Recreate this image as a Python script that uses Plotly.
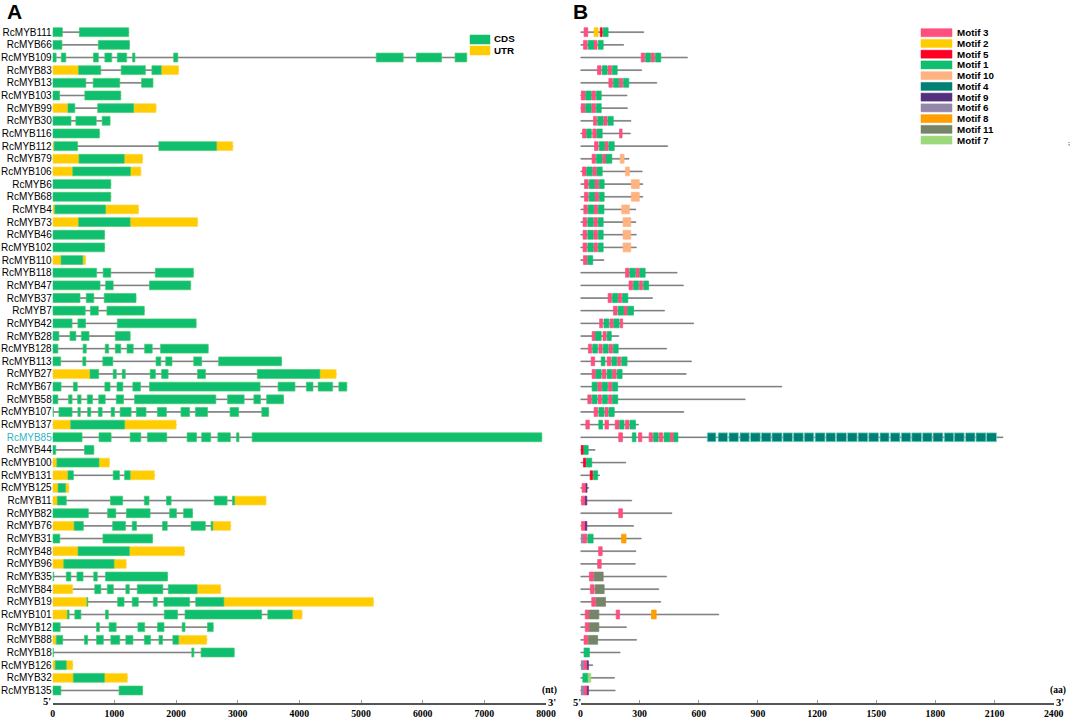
import plotly.graph_objects as go

W, H = 1072, 719

GENES = ["RcMYB111", "RcMYB66", "RcMYB109", "RcMYB83", "RcMYB13", "RcMYB103", "RcMYB99", "RcMYB30", "RcMYB116",
         "RcMYB112", "RcMYB79", "RcMYB106", "RcMYB6", "RcMYB68", "RcMYB4", "RcMYB73", "RcMYB46", "RcMYB102",
         "RcMYB110", "RcMYB118", "RcMYB47", "RcMYB37", "RcMYB7", "RcMYB42", "RcMYB28", "RcMYB128", "RcMYB113",
         "RcMYB27", "RcMYB67", "RcMYB58", "RcMYB107", "RcMYB137", "RcMYB85", "RcMYB44", "RcMYB100", "RcMYB131",
         "RcMYB125", "RcMYB11", "RcMYB82", "RcMYB76", "RcMYB31", "RcMYB48", "RcMYB96", "RcMYB35", "RcMYB84",
         "RcMYB19", "RcMYB101", "RcMYB12", "RcMYB88", "RcMYB18", "RcMYB126", "RcMYB32", "RcMYB135"]

# panel A, exon start/end in nt
CDS = {
    "RcMYB111": [(0, 157), (432, 1233)],
    "RcMYB66": [(0, 150), (740, 1245)],
    "RcMYB109": [(0, 56), (140, 213), (661, 740), (846, 958), (1048, 1200), (1295, 1334), (1962, 2029),
                 (5247, 5684), (5897, 6306), (6525, 6715)],
    "RcMYB83": [(420, 779), (1110, 1502), (1609, 1760)],
    "RcMYB13": [(0, 538), (656, 1087), (1441, 1626)],
    "RcMYB103": [(0, 112), (521, 1104)],
    "RcMYB99": [(247, 359), (729, 1312)],
    "RcMYB30": [(0, 297), (376, 706), (802, 930)],
    "RcMYB116": [(0, 757)],
    "RcMYB112": [(22, 404), (1721, 2657)],
    "RcMYB79": [(426, 1160)],
    "RcMYB106": [(325, 1261)],
    "RcMYB6": [(0, 942)],
    "RcMYB68": [(0, 942)],
    "RcMYB4": [(34, 858)],
    "RcMYB73": [(420, 1256)],
    "RcMYB46": [(0, 841)],
    "RcMYB102": [(0, 841)],
    "RcMYB110": [(135, 488)],
    "RcMYB118": [(0, 712), (818, 942), (1665, 2281)],
    "RcMYB47": [(0, 768), (858, 981), (1570, 2237)],
    "RcMYB37": [(0, 443), (544, 667), (835, 1351)],
    "RcMYB7": [(0, 527), (611, 740), (880, 1485)],
    "RcMYB42": [(0, 314), (409, 533), (1048, 2326)],
    "RcMYB28": [(0, 101), (280, 376), (465, 589), (1015, 1256)],
    "RcMYB128": [(0, 84), (493, 544), (852, 908), (1015, 1104), (1205, 1306), (1491, 1614), (1749, 2522)],
    "RcMYB113": [(0, 129), (488, 538), (813, 975), (1676, 1754), (1833, 1934), (2287, 2416), (2691, 3711)],
    "RcMYB27": [(605, 746), (981, 1031), (1127, 1177), (1581, 1665), (1766, 1872), (2349, 2478), (3318, 4333)],
    "RcMYB67": [(0, 135), (336, 398), (846, 930), (1043, 1138), (1300, 1424), (1570, 3363), (3655, 3929),
                (4114, 4221), (4305, 4540), (4641, 4770)],
    "RcMYB58": [(0, 84), (258, 314), (404, 460), (561, 645), (746, 852), (1031, 1149), (1328, 2646),
                (2836, 3105), (3262, 3369), (3470, 3744)],
    "RcMYB107": [(0, 12), (101, 314), (409, 448), (566, 617), (740, 802), (947, 1003), (1093, 1272),
                 (1356, 1513), (1698, 1844), (2080, 2220), (2315, 2511), (2876, 3016), (3391, 3503)],
    "RcMYB137": [(291, 1166)],
    "RcMYB85": [(0, 476), (751, 947), (1256, 1429), (1536, 1850), (2180, 2332), (2416, 2562), (2679, 2881),
                (2982, 3021), (3234, 7932)],
    "RcMYB44": [(0, 50), (516, 667)],
    "RcMYB100": [(67, 751)],
    "RcMYB131": [(247, 336), (981, 1082), (1166, 1256)],
    "RcMYB125": [(87, 208)],
    "RcMYB11": [(75, 220), (937, 1134), (1486, 1562), (1845, 1920), (2620, 2828), (2915, 2950)],
    "RcMYB82": [(0, 578), (891, 1024), (1197, 1579), (1897, 2007), (2123, 2267)],
    "RcMYB76": [(347, 497), (972, 1180), (1290, 1359), (1781, 1857), (2244, 2475), (2568, 2597)],
    "RcMYB31": [(0, 116), (815, 1619)],
    "RcMYB48": [(411, 1244)],
    "RcMYB96": [(179, 995)],
    "RcMYB35": [(0, 17), (220, 295), (393, 492), (665, 723), (856, 1862)],
    "RcMYB84": [(682, 781), (885, 983), (1186, 1243), (1371, 1787), (1874, 2342)],
    "RcMYB19": [(555, 570), (1053, 1157), (1290, 1388), (1631, 1695), (1805, 2221), (2319, 2776)],
    "RcMYB101": [(237, 266), (359, 457), (856, 902), (1810, 2024), (2146, 3389), (3488, 3887)],
    "RcMYB12": [(0, 121), (711, 758), (914, 1029), (1382, 1492), (1700, 1805), (2099, 2146), (2510, 2603)],
    "RcMYB88": [(58, 162), (515, 567), (711, 821), (943, 1087), (1186, 1301), (1486, 1585), (1724, 1781),
                (1949, 2042)],
    "RcMYB18": [(0, 12), (2256, 2290), (2406, 2944)],
    "RcMYB126": [(40, 220)],
    "RcMYB32": [(335, 839)],
    "RcMYB135": [(0, 133), (1076, 1457)],
}

UTR = {
    "RcMYB83": [(0, 420), (1760, 2040)],
    "RcMYB99": [(0, 247), (1312, 1676)],
    "RcMYB112": [(0, 22), (2657, 2920)],
    "RcMYB79": [(0, 426), (1160, 1457)],
    "RcMYB106": [(0, 325), (1261, 1429)],
    "RcMYB4": [(0, 34), (858, 1390)],
    "RcMYB73": [(0, 420), (1256, 2349)],
    "RcMYB110": [(0, 135), (488, 533)],
    "RcMYB27": [(0, 605), (4333, 4596)],
    "RcMYB137": [(0, 291), (1166, 2001)],
    "RcMYB100": [(0, 67), (751, 919)],
    "RcMYB131": [(0, 247), (1256, 1648)],
    "RcMYB125": [(0, 87), (208, 260)],
    "RcMYB11": [(0, 75), (2950, 3459)],
    "RcMYB76": [(0, 347), (2597, 2886)],
    "RcMYB48": [(0, 411), (1244, 2134)],
    "RcMYB96": [(0, 179), (995, 1191)],
    "RcMYB84": [(0, 324), (2342, 2724)],
    "RcMYB19": [(0, 555), (2776, 5200)],
    "RcMYB101": [(0, 237), (3887, 4043)],
    "RcMYB88": [(0, 58), (2042, 2499)],
    "RcMYB126": [(0, 40), (220, 324)],
    "RcMYB32": [(0, 335), (839, 1209)],
}

# panel B, protein length in aa, same order as GENES
PROTEIN_LEN = [321, 219, 542, 310, 387, 236, 238, 256, 253, 442, 246, 313, 316, 316, 281, 281, 283, 283, 119,
               490, 522, 365, 426, 574, 194, 437, 563, 536, 1021, 835, 524, 294, 2143, 74, 230, 97, 42, 260,
               464, 269, 308, 281, 278, 436, 397, 407, 701, 233, 284, 201, 62, 172, 176]

MOTIF_NAMES = ["Motif 3", "Motif 2", "Motif 5", "Motif 1", "Motif 10", "Motif 4", "Motif 9", "Motif 6",
               "Motif 8", "Motif 11", "Motif 7"]
MOTIF_COLORS = ["#ff4f7f", "#ffcc00", "#ff0022", "#10be70", "#ffb380", "#008075", "#55307f", "#9488aa",
                "#ff9f00", "#76856a", "#9bd97b"]

# gene -> (motif number, start aa, end aa)
MOTIFS = {
    "RcMYB111": [(3, 18, 37), (2, 69, 89), (5, 100, 110), (1, 115, 140)],
    "RcMYB66": [(3, 15, 34), (1, 39, 66), (3, 66, 84), (1, 90, 115)],
    "RcMYB109": [(3, 308, 325), (1, 330, 355), (3, 358, 375), (1, 380, 407)],
    "RcMYB83": [(3, 86, 104), (1, 110, 135), (3, 139, 157), (1, 161, 186)],
    "RcMYB13": [(3, 144, 162), (1, 167, 194), (3, 196, 214), (1, 218, 245)],
    "RcMYB103": [(3, 3, 24), (1, 27, 54), (3, 57, 76), (1, 80, 105)],
    "RcMYB99": [(3, 3, 24), (1, 27, 54), (3, 57, 76), (1, 80, 105)],
    "RcMYB30": [(3, 66, 82), (1, 87, 114), (3, 117, 135), (1, 139, 166)],
    "RcMYB116": [(3, 10, 29), (1, 32, 55), (3, 62, 81), (1, 84, 110), (3, 198, 211)],
    "RcMYB112": [(3, 71, 89), (1, 95, 122), (3, 124, 140), (1, 144, 171)],
    "RcMYB79": [(3, 59, 76), (1, 81, 109), (3, 112, 130), (1, 130, 159), (10, 201, 221)],
    "RcMYB106": [(3, 10, 29), (1, 32, 59), (3, 62, 81), (1, 84, 110), (10, 228, 248)],
    "RcMYB6": [(3, 20, 39), (1, 44, 71), (3, 72, 92), (1, 95, 120), (10, 258, 298)],
    "RcMYB68": [(3, 20, 39), (1, 44, 71), (3, 72, 92), (1, 95, 120), (10, 258, 298)],
    "RcMYB4": [(3, 17, 35), (1, 39, 66), (3, 67, 87), (1, 90, 119), (10, 209, 248)],
    "RcMYB73": [(3, 13, 32), (1, 37, 64), (3, 67, 86), (1, 90, 115), (10, 216, 255)],
    "RcMYB46": [(3, 13, 32), (1, 37, 64), (3, 67, 86), (1, 90, 115), (10, 216, 255)],
    "RcMYB102": [(3, 13, 32), (1, 37, 64), (3, 67, 86), (1, 90, 115), (10, 216, 255)],
    "RcMYB110": [(3, 15, 34), (1, 37, 62)],
    "RcMYB118": [(3, 228, 246), (1, 250, 278), (3, 281, 299), (1, 301, 328)],
    "RcMYB47": [(3, 246, 265), (1, 269, 294), (3, 298, 315), (1, 320, 345)],
    "RcMYB37": [(3, 140, 157), (1, 162, 189), (3, 191, 209), (1, 213, 240)],
    "RcMYB7": [(3, 167, 186), (1, 191, 218), (3, 219, 238), (1, 240, 269)],
    "RcMYB42": [(3, 97, 112), (1, 119, 144), (3, 149, 166), (1, 169, 196), (3, 201, 214)],
    "RcMYB28": [(3, 59, 77), (1, 77, 105), (3, 114, 130), (1, 135, 156)],
    "RcMYB128": [(3, 40, 57), (1, 62, 86), (3, 93, 110), (1, 115, 140), (3, 144, 162), (1, 166, 191)],
    "RcMYB113": [(3, 54, 72), (1, 105, 124), (3, 135, 154), (1, 159, 184), (3, 188, 204), (1, 209, 236)],
    "RcMYB27": [(3, 59, 77), (1, 79, 105), (3, 110, 129), (1, 135, 159), (3, 162, 181), (1, 186, 211)],
    "RcMYB67": [(1, 59, 84), (3, 87, 107), (1, 110, 137), (3, 141, 159), (1, 162, 188)],
    "RcMYB58": [(3, 37, 55), (1, 59, 84), (3, 89, 107), (1, 112, 137), (3, 142, 159), (1, 162, 189)],
    "RcMYB107": [(3, 69, 87), (1, 93, 119), (3, 124, 140), (1, 144, 171)],
    "RcMYB137": [(3, 27, 45), (1, 93, 112), (3, 124, 142), (3, 176, 196), (1, 199, 221), (3, 228, 246),
                 (1, 251, 279)],
    "RcMYB85": [(3, 194, 213), (1, 263, 281), (3, 294, 311), (3, 348, 365), (1, 370, 394), (3, 399, 417),
                (1, 424, 452), (3, 453, 472), (1, 474, 494),
                (4, 643, 687), (4, 698, 746), (4, 753, 801), (4, 809, 856), (4, 862, 912), (4, 917, 966),
                (4, 971, 1022), (4, 1027, 1075), (4, 1080, 1130), (4, 1135, 1183), (4, 1190, 1240),
                (4, 1245, 1293), (4, 1298, 1349), (4, 1354, 1403), (4, 1408, 1457), (4, 1462, 1512),
                (4, 1519, 1565), (4, 1572, 1620), (4, 1627, 1675), (4, 1680, 1730), (4, 1735, 1783),
                (4, 1788, 1838), (4, 1845, 1893), (4, 1896, 1946), (4, 1953, 2001), (4, 2006, 2056),
                (4, 2059, 2110)],
    "RcMYB44": [(5, 3, 15), (1, 17, 39)],
    "RcMYB100": [(5, 15, 27), (1, 30, 57)],
    "RcMYB131": [(5, 49, 61), (1, 66, 87)],
    "RcMYB125": [(3, 8, 29), (9, 29, 33)],
    "RcMYB11": [(3, 5, 25), (9, 25, 32)],
    "RcMYB82": [(3, 194, 213)],
    "RcMYB76": [(3, 5, 25), (9, 25, 32)],
    "RcMYB31": [(6, 3, 11), (3, 11, 32), (1, 37, 64), (8, 208, 231)],
    "RcMYB48": [(3, 92, 110)],
    "RcMYB96": [(3, 87, 105)],
    "RcMYB35": [(3, 45, 66), (11, 69, 115)],
    "RcMYB84": [(3, 50, 69), (11, 74, 120)],
    "RcMYB19": [(3, 57, 77), (11, 79, 127)],
    "RcMYB101": [(3, 24, 44), (11, 45, 93), (3, 181, 198), (8, 360, 384)],
    "RcMYB12": [(3, 24, 44), (11, 45, 93)],
    "RcMYB88": [(3, 18, 37), (11, 40, 87)],
    "RcMYB18": [(1, 18, 45)],
    "RcMYB126": [(6, 3, 15), (3, 15, 35), (9, 35, 40)],
    "RcMYB32": [(1, 12, 39), (7, 39, 52)],
    "RcMYB135": [(6, 3, 15), (3, 15, 35), (9, 35, 40)],
}

NT_TICKS = [0, 1000, 2000, 3000, 4000, 5000, 6000, 7000, 8000]
AA_TICKS = [0, 300, 600, 900, 1200, 1500, 1800, 2100, 2400]

CDS_COLOR = "#10be70"
UTR_COLOR = "#ffcc00"
LINE_GRAY = "#777777"
SANS = "Liberation Sans"
SERIF = "Liberation Serif"


def px(x):
    return x / W


def py(y):
    return 1 - y / H


def add_segments(fig, rows, xaxis, color, edge, width=0.7):
    ys = [r[0] for r in rows]
    fig.add_trace(go.Bar(y=ys, x=[r[2] - r[1] for r in rows], base=[r[1] for r in rows], orientation="h",
                         xaxis=xaxis, yaxis="y", width=width, marker_color=color,
                         marker_line=dict(color=edge, width=0.7), hoverinfo="skip"))


fig = go.Figure()

# gene and protein backbones go in first so the boxes sit on top of them
gene_rows = [(i, 0, max(e for _, e in CDS.get(g, []) + UTR.get(g, []))) for i, g in enumerate(GENES)]
add_segments(fig, gene_rows, "x", LINE_GRAY, LINE_GRAY, 0.06)
add_segments(fig, [(i, 0, n) for i, n in enumerate(PROTEIN_LEN)], "x2", LINE_GRAY, LINE_GRAY, 0.06)

add_segments(fig, [(i, s, e) for i, g in enumerate(GENES) for s, e in UTR.get(g, [])], "x", UTR_COLOR, "#ffd84a")
add_segments(fig, [(i, s, e) for i, g in enumerate(GENES) for s, e in CDS[g]], "x", CDS_COLOR, "#44cc66")

for name, color in zip(MOTIF_NAMES, MOTIF_COLORS):
    num = int(name.split()[1])
    rows = [(i, s, e) for i, g in enumerate(GENES) for m, s, e in MOTIFS[g] if m == num]
    edge = "#7fd8c8" if num == 4 else color
    add_segments(fig, rows, "x2", color, edge)

ticktext = [f'<span style="color:#2fb5c4">{g}</span>' if g == "RcMYB85" else g for g in GENES]

shapes = []
annotations = []


def text(x, y, s, size, font=SANS, bold=False, anchor="left", color="black"):
    label = f"<b>{s}</b>" if bold else s
    annotations.append(dict(x=px(x), y=py(y), xref="paper", yref="paper", text=label, showarrow=False,
                            xanchor=anchor, yanchor="middle", xshift=0, yshift=0, borderpad=0,
                            font=dict(family=font, size=size, color=color)))


def swatch(x0, x1, y0, y1, color):
    shapes.append(dict(type="rect", xref="paper", yref="paper", x0=px(x0), x1=px(x1), y0=py(y0), y1=py(y1),
                       fillcolor=color, line=dict(color=color, width=0.5)))


# CDS / UTR key
swatch(470, 490, 35, 44, CDS_COLOR)
swatch(470, 490, 46, 55, UTR_COLOR)
text(493, 39, "CDS", 9.8, bold=True)
text(493, 50, "UTR", 9.8, bold=True)

# motif key
for i, (name, color) in enumerate(zip(MOTIF_NAMES, MOTIF_COLORS)):
    yc = 32.7 + i * 10.74
    swatch(921, 952, yc - 4, yc + 4, color)
    text(956, yc, name, 9.8, bold=True)

text(5.5, 11, "A", 21, bold=True)
text(571.5, 11, "B", 21, bold=True)
text(42, 701, "5'", 10.5, font=SERIF, bold=True)
text(547, 702, "3'", 10.5, font=SERIF, bold=True)
text(541, 690, "(nt)", 9.6, font=SERIF, bold=True)
text(572, 702, "5'", 10.5, font=SERIF, bold=True)
text(1055, 702, "3'", 10.5, font=SERIF, bold=True)
text(1049, 690, "(aa)", 9.6, font=SERIF, bold=True)
text(1067, 143, ";", 6, bold=True)

axis_common = dict(showgrid=False, zeroline=False, showline=True, linecolor="#555555", linewidth=2,
                   ticks="inside", ticklen=3, tickcolor="#999999", tickwidth=1, anchor="y",
                   tickfont=dict(family=SERIF, size=9.8, color="black", weight="bold"))

fig.update_layout(
    width=W, height=H, margin=dict(l=0, r=0, t=0, b=0, pad=0, autoexpand=False), paper_bgcolor="white",
    plot_bgcolor="white", barmode="overlay", showlegend=False, shapes=shapes, annotations=annotations,
    xaxis=dict(domain=[px(52.7), px(546)], range=[0, 8000], tickvals=NT_TICKS, **axis_common),
    xaxis2=dict(domain=[px(580.5), px(1053.7)], range=[0, 2400], tickvals=AA_TICKS, **axis_common),
    yaxis=dict(domain=[py(703), 1], range=[52.99, -2.543], tickvals=list(range(len(GENES))), ticktext=ticktext,
               showgrid=False, zeroline=False, showline=False, ticks="", anchor="x",
               tickfont=dict(family=SANS, size=10, color="black")),
)

# the page's default body margin would push the 1072x719 figure off its spot
fig.write_html("out.html", config={"displayModeBar": False}, post_script="document.body.style.margin='0';")
